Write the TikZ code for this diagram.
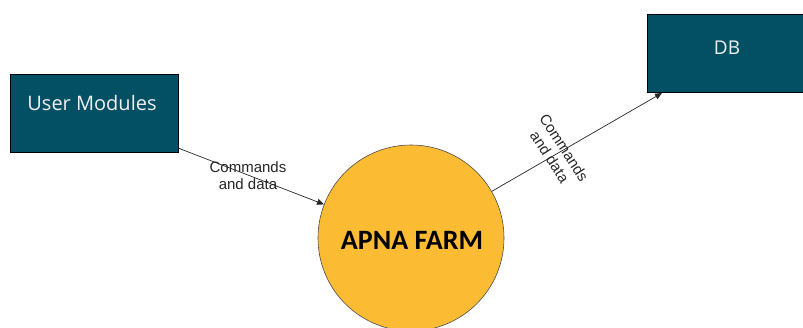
\documentclass[tikz,border=0pt]{standalone}
\usepackage{fontspec}
\setmainfont{Open Sans}
\newfontfamily\labelfont{Liberation Sans}
\newfontfamily\titlefont{Carlito}
\usetikzlibrary{arrows.meta}
\definecolor{boxteal}{HTML}{034F64}
\definecolor{farmgold}{HTML}{FBBC33}
\tikzset{
  entity/.style={draw=black, line width=0.6pt, fill=boxteal, text=white,
    minimum width=168pt, minimum height=78pt, inner sep=0pt},
  process/.style={circle, draw=black!70, line width=0.6pt, fill=farmgold,
    minimum size=186pt, inner sep=0pt},
  flow/.style={draw=black!85, line width=0.7pt, -{Triangle[length=7pt,width=6pt]}},
  flowlabel/.style={font=\labelfont\fontsize{15}{17}\selectfont, align=center, text=black!85, inner sep=0pt}
}
\begin{document}
\begin{tikzpicture}[x=1pt,y=-1pt]
  \useasboundingbox (0,0) rectangle (803,327);
  \begin{scope}
    \clip (0,0) rectangle (803,327);
    % external entities
    \node[entity] (user) at (94,113) {};
    \node[text=white!94!black, font=\fontsize{20}{20}\selectfont] (userlbl) at (92,103) {User Modules};
    \node[entity, minimum width=160pt] (db) at (727,53) {};
    \node[text=white!94!black, font=\fontsize{19}{19}\selectfont] (dblbl) at (727,48) {DB};
    % central process
    \node[process] (farm) at (411,238) {};
    \node[font=\titlefont\bfseries\fontsize{28}{28}\selectfont] (farmlbl) at (412,240) {APNA FARM};
    % data flows
    \coordinate (uout) at (178,148);
    \coordinate (dbin) at (662,93);
    \draw[flow] (uout) -- (farm);
    \draw[flow] (farm) -- (dbin);
    \node[flowlabel] (l1) at (248,176) {Commands\\and data};
    \node[flowlabel, rotate=-57] (l2) at (557,152) {Commands\\and data};
  \end{scope}
\end{tikzpicture}
\end{document}
